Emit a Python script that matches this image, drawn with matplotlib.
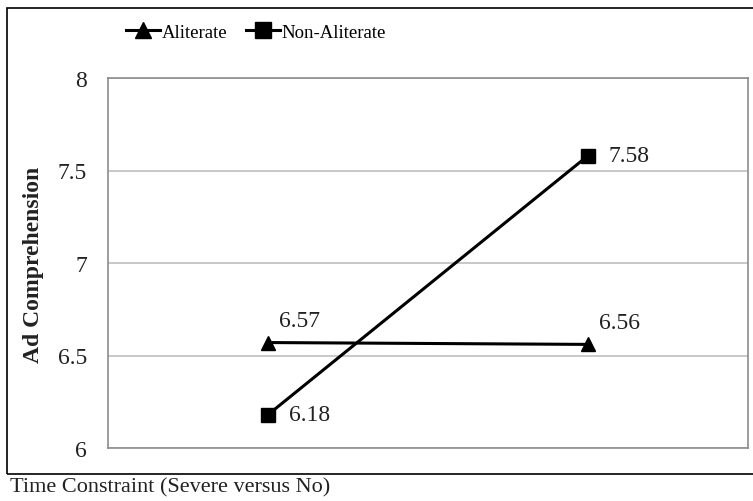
import matplotlib.pyplot as plt
from matplotlib.patches import Rectangle

# -- data --------------------------------------------------------------------
categories = ['Severe', 'No']
aliterate = [6.57, 6.56]
non_aliterate = [6.18, 7.58]
y_ticks = [6, 6.5, 7, 7.5, 8]
y_ticklabels = ['6', '6.5', '7', '7.5', '8']

plt.rcParams['font.family'] = ['Liberation Serif', 'DejaVu Serif']

fig = plt.figure(figsize=(7.53, 5.02), dpi=100, facecolor='white')
ax = fig.add_axes([108 / 753, 1 - 449 / 502, 640 / 753, 370 / 502])

x = list(range(len(categories)))
ax.plot(x, aliterate, color='black', lw=2.2, marker='^', ms=10,
        label='Aliterate', zorder=3)
ax.plot(x, non_aliterate, color='black', lw=2.2, marker='s', ms=10,
        label='Non-Aliterate', zorder=3)

# value labels
for xi, v in zip(x, aliterate):
    ax.annotate(f'{v:.2f}', (xi, v), xytext=(8, 16), textcoords='offset points',
                ha='left', va='center', fontsize=17, color='#222222')
for xi, v in zip(x, non_aliterate):
    ax.annotate(f'{v:.2f}', (xi, v), xytext=(15, 0), textcoords='offset points',
                ha='left', va='center', fontsize=17, color='#222222')

ax.set_xlim(-0.5, 1.5)
ax.set_ylim(6, 8)
ax.set_yticks(y_ticks)
ax.set_yticklabels(y_ticklabels, fontsize=17, color='#222222')
ax.set_xticks([])
ax.tick_params(axis='y', length=0, pad=15)
ax.grid(axis='y', color='#BFBFBF', lw=1.2)
ax.set_axisbelow(True)
for sp in ax.spines.values():
    sp.set_color('#8C8C8C')
    sp.set_linewidth(1.2)

fig.text(34 / 753, 1 - 265 / 502, 'Ad Comprehension', rotation=90,
         ha='center', va='center', fontsize=17, fontweight='bold', color='#222222')

leg = fig.legend(loc='center', bbox_to_anchor=(256 / 753, 1 - 33 / 502), ncol=2,
                 frameon=False, fontsize=13.5, handlelength=1.8, handletextpad=0.1,
                 columnspacing=1.0, markerscale=1.1)

fig.text(10 / 753, 1 - 488 / 502, 'Time Constraint (Severe versus No)',
         ha='left', va='center', fontsize=16, color='#222222')

# outer frame (right edge runs off the image)
fig.add_artist(Rectangle((7 / 753, 1 - 475 / 502), 1.0, 466 / 502,
                         transform=fig.transFigure, fill=False,
                         edgecolor='black', lw=1.2))

fig.savefig('out.png', dpi=100, facecolor='white')
